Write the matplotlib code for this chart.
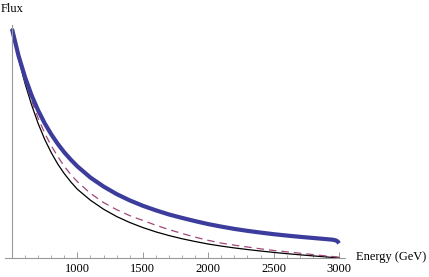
import matplotlib
matplotlib.use("Agg")
import matplotlib.pyplot as plt

# Energy (GeV) sample points and normalized fluxes
energy_blue = [500, 550, 600, 650, 700, 750, 800, 850, 900, 950, 1000, 1100, 1200, 1300,
               1400, 1500, 1600, 1700, 1800, 1900, 2000, 2100, 2200, 2300, 2400, 2500,
               2600, 2700, 2800, 2900, 2950, 2975, 2990, 3000]
flux_blue = [1.0, 0.883, 0.789, 0.710, 0.644, 0.588, 0.540, 0.498, 0.461, 0.429, 0.400,
             0.351, 0.312, 0.279, 0.2515, 0.228, 0.208, 0.190, 0.175, 0.161, 0.148,
             0.137, 0.127, 0.1185, 0.111, 0.104, 0.098, 0.0925, 0.0875, 0.0825, 0.080,
             0.077, 0.072, 0.064]

energy_dash = [500, 550, 600, 650, 700, 750, 800, 850, 900, 950, 1000, 1100, 1200, 1300,
               1400, 1500, 1600, 1700, 1800, 1900, 2000, 2100, 2200, 2300, 2400, 2500,
               2600, 2700, 2800, 2900, 3000]
flux_dash = [1.0, 0.875, 0.770, 0.685, 0.610, 0.545, 0.490, 0.443, 0.400, 0.364, 0.333,
             0.282, 0.242, 0.211, 0.185, 0.164, 0.143, 0.124, 0.107, 0.091, 0.077,
             0.065, 0.056, 0.048, 0.040, 0.033, 0.027, 0.021, 0.015, 0.009, 0.004]

energy_black = [500, 550, 600, 650, 700, 750, 800, 850, 900, 950, 1000, 1100, 1200, 1300,
                1400, 1500, 1600, 1700, 1800, 1900, 2000, 2100, 2200, 2300, 2400, 2500,
                2600, 2700, 2800, 2900, 3000]
flux_black = [1.0, 0.870, 0.761, 0.668, 0.587, 0.518, 0.460, 0.410, 0.368, 0.332, 0.300,
              0.252, 0.213, 0.181, 0.155, 0.133, 0.114, 0.098, 0.084, 0.072, 0.061,
              0.052, 0.044, 0.037, 0.0305, 0.0245, 0.019, 0.014, 0.0093, 0.0047, 0.0]

major_ticks = [1000, 1500, 2000, 2500, 3000]
minor_ticks = [e for e in range(600, 3001, 100) if e not in major_ticks]

fig = plt.figure(figsize=(4.29, 2.77), dpi=100)
ax = fig.add_axes([5 / 429, 19 / 277, 340 / 429, 233 / 277])

ax.plot(energy_black, flux_black, color="black", lw=0.9)
ax.plot(energy_dash, flux_dash, color="#A04678", lw=0.9, dashes=(6, 4))
ax.plot(energy_blue, flux_blue, color="#3C3C9C", lw=3.0, solid_capstyle="butt")

ax.set_xlim(446.6, 3045.8)
ax.set_ylim(0, 1.017)

for s in ["top", "right"]:
    ax.spines[s].set_visible(False)
ax.spines["left"].set_position(("data", 500))
for s in ["left", "bottom"]:
    ax.spines[s].set_color("#999999")
    ax.spines[s].set_linewidth(0.8)

ax.set_yticks([])
ax.set_xticks(major_ticks)
ax.set_xticks(minor_ticks, minor=True)
ax.tick_params(axis="x", which="major", direction="in", length=4, width=0.6, color="#888888",
               labelsize=9, pad=3.5)
ax.tick_params(axis="x", which="minor", direction="in", length=2.5, width=0.5, color="#888888")
for lab in ax.get_xticklabels():
    lab.set_fontfamily("Liberation Serif")

fig.text(1 / 429, 1 - 9 / 277, "Flux", fontsize=9, family="Liberation Serif", va="center", ha="left")
fig.text(356 / 429, 1 - 257 / 277, "Energy (GeV)", fontsize=9, family="Liberation Serif",
         va="center", ha="left")

fig.savefig("out.png", dpi=100)
